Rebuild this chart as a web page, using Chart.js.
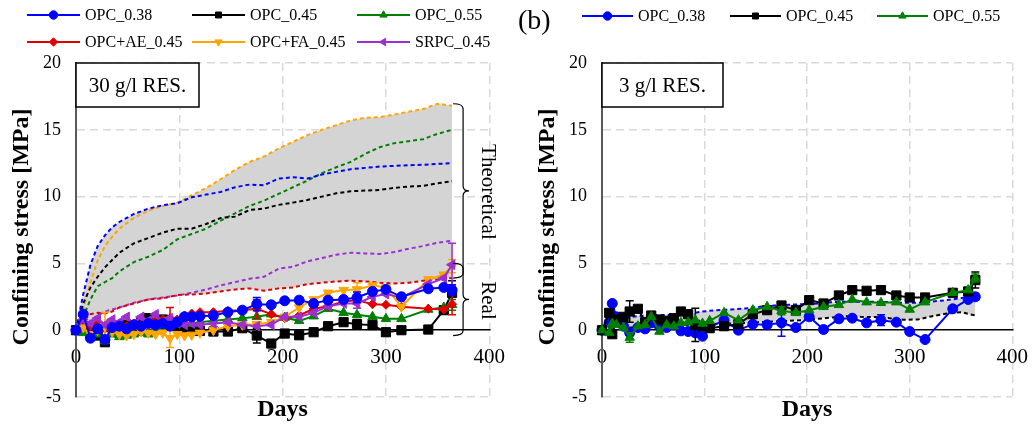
<!DOCTYPE html>
<html><head><meta charset="utf-8">
<script src="https://cdn.jsdelivr.net/npm/chart.js"></script>
<style>
html,body{margin:0;padding:0;background:#fff;}
#wrap{position:relative;width:1033px;height:424px;overflow:hidden;background:#fff;}
#c1{position:absolute;left:0;top:0;}
#c2{position:absolute;left:510px;top:0;}
</style></head><body>
<div id="wrap"><canvas id="c1" width="510" height="424"></canvas><canvas id="c2" width="523" height="424"></canvas></div>
<script>
// ---------------- DATA ----------------
const dayTicks = [0, 100, 200, 300, 400];
const stressTicks = [-5, 0, 5, 10, 15, 20];

// (a) 30 g/l — theoretical curves
const theoDays30 = [0,7,14,21,28,35,42,56,70,84,98,112,126,140,154,168,182,196,210,224,238,252,266,280,294,308,322,336,350,364];
const theo30_OPC038 = [0,2.7,4.9,6.3,7.1,7.7,8.1,8.7,9.1,9.35,9.5,9.95,10.15,10.35,10.7,10.9,10.85,11.35,11.45,11.35,11.65,11.85,12.05,12.15,12.25,12.3,12.35,12.38,12.45,12.5];
const theo30_OPC045 = [0,2.0,3.2,4.0,4.7,5.25,5.8,6.5,6.9,7.3,7.6,7.6,7.95,8.4,8.5,9.0,9.1,9.38,9.55,9.75,10.0,10.25,10.4,10.45,10.5,10.65,10.75,10.8,11.0,11.15];
const theo30_OPC055 = [0,1.0,2.3,3.3,3.6,3.9,4.4,5.1,5.5,6.0,6.8,7.2,7.6,8.2,8.75,9.3,9.7,10.2,10.7,11.2,11.75,12.2,12.6,13.2,13.7,14.0,14.15,14.3,14.7,15.0];
const theo30_AE045  = [0,0.7,1.2,1.3,1.25,1.4,1.7,2.0,2.3,2.38,2.63,2.68,2.75,2.9,3.05,3.13,2.95,3.13,3.2,3.45,3.55,3.65,3.7,3.65,3.55,3.5,3.55,3.7,3.8,3.9];
const theo30_FA045  = [0,1.6,3.6,5.2,6.3,7.0,7.6,8.4,8.95,9.3,9.55,10.1,10.65,11.3,12.0,12.6,13.0,13.6,14.1,14.6,15.0,15.35,15.7,15.9,15.95,16.15,16.35,16.55,16.95,16.8];
const theo30_SRPC045= [0,0.3,0.7,1.1,1.4,1.55,1.7,2.05,2.3,2.45,2.6,2.8,3.05,3.35,3.6,3.85,4.0,4.6,4.75,5.15,5.4,5.65,5.8,5.75,5.7,5.85,6.1,6.3,6.55,6.7];

// (a) 30 g/l — measured
const realDays30 = [0,7,14,21,28,35,42,49,56,63,70,77,84,91,98,105,112,120,133,147,161,175,189,202,216,230,244,259,272,287,300,315,341,356,364];
const real30_OPC038 = [0,1.2,-0.6,0.1,-0.7,0.2,0.3,0.1,0.4,0.3,0.5,0.4,0.5,0.3,0.6,1.0,1.0,1.05,1.1,1.35,1.5,1.95,1.9,2.2,2.25,2.0,2.25,2.3,2.45,2.9,3.05,2.5,3.1,3.2,3.0];
const real30_OPC045 = [0,0.3,-0.2,-0.4,-0.9,0.2,-0.2,0.4,0.1,0.6,0.9,0.5,0.8,0.6,0.3,0.1,0.0,-0.05,-0.1,-0.1,0.15,-0.4,-1.0,-0.25,-0.38,-0.15,0.3,0.6,0.45,0.38,-0.15,0.0,0.05,1.5,2.8];
const real30_OPC055 = [0,-0.2,-0.4,-0.3,-0.8,-0.3,-0.5,-0.4,-0.3,-0.2,-0.3,0.0,0.2,0.4,0.5,0.6,0.5,0.6,0.7,0.8,0.9,1.0,1.2,0.95,0.7,1.05,1.6,1.3,1.15,1.0,0.85,0.85,1.55,1.7,1.9];
const real30_AE045  = [0,0.8,0.3,0.5,0.1,0.4,0.2,0.3,0.5,0.4,0.6,0.7,0.8,0.9,0.8,1.1,1.25,1.35,1.35,1.45,1.5,1.6,1.2,0.9,1.1,1.6,1.8,2.15,2.25,1.95,1.9,1.75,1.6,1.55,1.95];
const real30_FA045  = [0,0.2,-0.3,0.0,0.3,-0.1,-0.3,-0.4,-0.3,-0.1,-0.2,-0.3,-0.2,-0.6,-0.3,-0.4,-0.35,-0.2,0.0,0.3,0.4,0.45,0.6,1.0,1.7,2.3,2.8,3.0,3.05,3.35,3.2,1.75,3.8,4.15,4.8];
const real30_SRPC045= [0,0.8,0.5,0.9,0.4,0.8,0.6,1.0,0.5,1.0,0.7,1.2,0.6,0.9,0.5,0.4,0.5,0.4,0.5,0.6,0.4,0.3,0.4,1.0,1.0,1.3,1.8,2.0,2.0,2.5,2.7,2.45,3.45,3.9,4.9];
// error bar half-widths (0 = none)
const err30_OPC038 = [0,0,0,0,0,0,0,0,0,0,0,0,0,0,0,0,0,0,0,0,0,0.5,0,0,0,0,0,0,0.4,0,0,0,0,0,0.4];
const err30_OPC045 = [0,0,0,0,0.25,0,0,0,0,0,0,0,0,0,0,0,0,0,0,0,0,0.55,0,0,0,0,0,0,0.35,0,0,0,0,0,0.9];
const err30_OPC055 = [0,0,0,0,0.2,0,0,0,0,0,0,0,0,0,0,0,0,0,0,0,0,0,0,0,0,0,0,0,0,0,0,0,0,0,0.4];
const err30_AE045  = [0,0,0,0,0,0,0,0,0,0,0,0,0,0.8,0,0,0,0,0,0,0,0.7,0,0,0,0,0,0,0,0,0,0,0,0,0.8];
const err30_FA045  = [0,0,0,0,1.05,0,0,0,0,0,0,0,0,0.7,0,0,0,0,0,0,0,0,0,0,0,0,0,0,0.5,0,0,0,0,0,0.5];
const err30_SRPC045= [0,0,0,0,0,0,0,0,0,0,0,0,0,0,0,0,0,0,0,0,0,0,0,0,0,0,0,0,0.35,0,0,0,0,0,1.6];

// (b) 3 g/l — theoretical curves
const theoDays3 = [0,7,14,28,42,56,70,84,98,112,126,140,154,168,182,196,210,224,238,252,266,280,294,308,322,336,350,364];
const theo3_OPC038 = [0,0.6,0.8,1.0,1.1,1.13,1.13,1.2,1.4,1.5,1.55,1.63,1.75,1.85,1.9,1.95,2.0,2.1,2.13,2.13,2.13,2.1,2.05,2.05,2.15,2.25,2.4,2.6];
const theo3_OPC045 = [0,0.25,0.3,0.2,0.25,0.3,0.35,0.4,0.45,0.48,0.5,0.55,0.6,0.65,0.7,0.75,0.85,0.95,1.05,1.0,0.98,0.9,0.78,0.8,1.05,1.25,1.35,1.1];

// (b) 3 g/l — measured
const realDays3 = [0,7,10,14,21,27,35,42,48,56,63,70,77,84,91,98,105,119,133,147,161,175,189,202,216,231,244,258,272,287,300,315,342,357,364];
const real3_OPC038 = [0,0.6,2.0,1.0,0.3,-0.2,0.2,0.1,0.55,0.3,0.2,0.4,-0.05,-0.1,-0.2,-0.45,0.2,0.75,0.0,0.45,0.4,0.55,0.2,1.0,0.05,0.85,0.9,0.55,0.75,0.6,-0.1,-0.7,1.6,2.3,2.5];
const real3_OPC045 = [0,1.3,-0.3,0.8,1.0,1.4,1.6,0.6,1.1,0.8,0.7,0.9,1.4,1.2,0.4,0.3,0.15,0.3,0.45,1.2,1.5,1.85,1.5,2.25,2.0,2.6,3.0,2.95,3.0,2.6,2.45,2.45,2.8,2.9,3.75];
const real3_OPC055 = [0,-0.2,0.5,0.4,0.2,-0.55,0.3,0.4,1.0,-0.1,0.4,0.3,0.55,0.6,0.75,0.5,0.7,1.3,0.75,1.5,1.75,1.45,1.3,1.5,1.75,1.9,2.3,2.1,2.05,2.1,1.55,2.1,2.8,3.0,3.9];
const err3_OPC038 = [0,0,0,0,0,0.2,0,0,0,0,0,0,0,0,0,0,0,0,0,0,0,1.0,0,0,0,0,0,0,0.4,0,0,0,0,0,0.25];
const err3_OPC045 = [0,0,0,0,0,0.8,0,0,0,0,0,0,0,0,1.25,0,0,0,0,0,0,0,0,0,0,0,0,0,0,0,0,0,0,0,0.6];
const err3_OPC055 = [0,0,0,0,0,0.35,0,0,0,0,0,0,0,0,0,0,0,0,0,0,0,0.3,0,0,0,0,0,0,0,0,0,0,0,0,0.3];

// bracket annotations (values in MPa)
const bracketLabels = ['Theoretical', 'Real'];
const bracketTop = [16.95, 5.0];
const bracketBottom = [3.9, -0.4];

// ---------------- STYLE ----------------
const FONT = "'Liberation Serif','Times New Roman',serif";
const C = {blue:'#0000ff', black:'#000000', green:'#008000', red:'#e00000', orange:'#ffa500', purple:'#9b30d0'};
const FILL = '#d4d4d4';

function pts(xs, ys) { return xs.map((x, i) => ({x: x, y: ys[i]})); }
function envelope(arrs, fn) { return arrs[0].map((_, i) => fn.apply(null, arrs.map(a => a[i]))); }

function marker(ctx, style, rot, x, y, r, color) {
  ctx.save();
  ctx.fillStyle = color; ctx.strokeStyle = color; ctx.lineWidth = 1;
  ctx.translate(x, y); ctx.rotate(rot * Math.PI / 180);
  ctx.beginPath();
  if (style === 'circle') ctx.arc(0, 0, r, 0, Math.PI * 2);
  else if (style === 'rect') { const s = r * Math.SQRT1_2; ctx.rect(-s, -s, 2 * s, 2 * s); }
  else if (style === 'rectRot') { ctx.moveTo(0, -r); ctx.lineTo(r, 0); ctx.lineTo(0, r); ctx.lineTo(-r, 0); ctx.closePath(); }
  else { for (let k = 0; k < 3; k++) { const a = k * 2 * Math.PI / 3; const px = Math.sin(a) * r, py = -Math.cos(a) * r; if (k) ctx.lineTo(px, py); else ctx.moveTo(px, py); } ctx.closePath(); }
  ctx.fill(); ctx.stroke();
  ctx.restore();
}

const errorBarPlugin = {
  id: 'errbars',
  afterDatasetDraw(chart, args) {
    const ds = chart.data.datasets[args.index];
    if (!ds.errors) return;
    const ys = chart.scales.y, ctx = chart.ctx;
    ctx.save();
    ctx.strokeStyle = ds.borderColor; ctx.lineWidth = 1.5; ctx.setLineDash([]);
    args.meta.data.forEach((pt, i) => {
      const e = ds.errors[i]; if (!e) return;
      const v = ds.data[i].y;
      const y1 = ys.getPixelForValue(v + e), y2 = ys.getPixelForValue(v - e), x = pt.x;
      ctx.beginPath();
      ctx.moveTo(x, y1); ctx.lineTo(x, y2);
      ctx.moveTo(x - 4, y1); ctx.lineTo(x + 4, y1);
      ctx.moveTo(x - 4, y2); ctx.lineTo(x + 4, y2);
      ctx.stroke();
    });
    ctx.restore();
  }
};

function decoPlugin(spec) {
  return {
    id: 'deco',
    afterDraw(chart) {
      const ctx = chart.ctx, a = chart.chartArea, xs = chart.scales.x, ys = chart.scales.y;
      ctx.save();
      // label box
      ctx.fillStyle = '#fff'; ctx.strokeStyle = '#000'; ctx.lineWidth = 1.5;
      ctx.fillRect(a.left, a.top, spec.boxW, 44);
      ctx.strokeRect(a.left, a.top, spec.boxW, 44);
      ctx.fillStyle = '#000'; ctx.font = '21px ' + FONT; ctx.textAlign = 'center'; ctx.textBaseline = 'middle';
      ctx.fillText(spec.boxText, a.left + spec.boxW / 2, a.top + 23);
      // axis titles
      ctx.font = 'bold 24px ' + FONT;
      ctx.fillText('Days', (a.left + a.right) / 2, 410);
      ctx.save();
      ctx.translate(spec.yTitleX, (a.top + a.bottom) / 2 - 3);
      ctx.rotate(-Math.PI / 2);
      ctx.fillText('Confining stress [MPa]', 0, 0);
      ctx.restore();
      // panel label
      if (spec.panelLabel) {
        ctx.font = '28px ' + FONT; ctx.textAlign = 'left';
        ctx.fillText(spec.panelLabel, spec.panelX, 22);
      }
      // legend
      ctx.font = '16px ' + FONT; ctx.textAlign = 'left'; ctx.textBaseline = 'middle';
      const items = chart.data.datasets.filter(d => d.legend);
      items.forEach((d, i) => {
        const col = i % spec.legendCols.length, row = Math.floor(i / spec.legendCols.length);
        const x = spec.legendCols[col], y = spec.legendRows[row];
        ctx.strokeStyle = d.borderColor; ctx.lineWidth = 2; ctx.setLineDash([]);
        ctx.beginPath(); ctx.moveTo(x, y); ctx.lineTo(x + spec.legendLine, y); ctx.stroke();
        marker(ctx, d.pointStyle, d.rotation || 0, x + spec.legendLine / 2, y, 4.2, d.borderColor);
        ctx.fillStyle = '#000';
        ctx.fillText(d.label, x + spec.legendLine + 5, y + 1);
      });
      // brackets
      if (spec.brackets) {
        const x0 = xs.getPixelForValue(365), x1 = x0 + 10, x2 = x0 + 16, xt = xs.getPixelForValue(398);
        ctx.strokeStyle = '#000'; ctx.lineWidth = 1.2;
        bracketLabels.forEach((lab, i) => {
          const yT = ys.getPixelForValue(bracketTop[i]), yB = ys.getPixelForValue(bracketBottom[i]), yM = (yT + yB) / 2;
          ctx.beginPath();
          ctx.moveTo(x0, yT); ctx.quadraticCurveTo(x1, yT, x1, yT + 5);
          ctx.lineTo(x1, yM - 5); ctx.quadraticCurveTo(x1, yM, x2, yM);
          ctx.quadraticCurveTo(x1, yM, x1, yM + 5);
          ctx.lineTo(x1, yB - 5); ctx.quadraticCurveTo(x1, yB, x0, yB);
          ctx.stroke();
          ctx.save();
          ctx.translate(xt, yM + 1); ctx.rotate(Math.PI / 2);
          ctx.font = '21px ' + FONT; ctx.textAlign = 'center'; ctx.textBaseline = 'middle'; ctx.fillStyle = '#000';
          ctx.fillText(lab, 0, 0);
          ctx.restore();
        });
      }
      ctx.restore();
    }
  };
}

function buildChart(spec) {
  const datasets = [];
  const envVals = spec.theo.map(t => t.values);
  datasets.push({label: 'envUpper', data: pts(spec.theoDays, envelope(envVals, Math.max)), borderWidth: 0, pointRadius: 0,
    backgroundColor: FILL, borderColor: 'rgba(0,0,0,0)', fill: '+1', order: 100, tension: 0});
  datasets.push({label: 'envLower', data: pts(spec.theoDays, envelope(envVals, Math.min)), borderWidth: 0, pointRadius: 0,
    borderColor: 'rgba(0,0,0,0)', fill: false, order: 99, tension: 0});
  spec.theo.forEach(t => datasets.push({label: t.label + ' theoretical', data: pts(spec.theoDays, t.values), borderColor: t.color,
    borderWidth: 2, borderDash: [4, 3], pointRadius: 0, fill: false, order: 50, tension: 0}));
  spec.real.forEach((r, k) => datasets.push({label: r.label, legend: true, data: pts(spec.realDays, r.values), errors: r.err,
    borderColor: r.color, backgroundColor: r.color, borderWidth: 2, pointStyle: r.style, rotation: r.rot || 0,
    pointRadius: r.r, pointBorderWidth: 1, fill: false, order: r.order, tension: 0, clip: false}));

  return new Chart(document.getElementById(spec.canvas), {
    type: 'line',
    data: {datasets},
    options: {
      responsive: false, animation: false, devicePixelRatio: 1,
      layout: {padding: {left: 0, right: spec.padRight, top: 63, bottom: 27}},
      plugins: {legend: {display: false}, tooltip: {enabled: false}},
      scales: {
        x: {
          type: 'linear', min: 0, max: 400, position: {y: 0},
          afterBuildTicks: s => { s.ticks = dayTicks.map(v => ({value: v})); },
          ticks: {font: {family: FONT, size: 21}, color: '#000', padding: 5, maxRotation: 0},
          grid: {color: c => (c.tick && c.tick.value === 0) ? 'rgba(0,0,0,0)' : '#d9d9d9', lineWidth: 1.5,
                 drawTicks: true, tickLength: 10, tickColor: 'rgba(0,0,0,0)'},
          border: {display: true, color: '#000', width: 1.5, dash: [8, 5]}
        },
        y: {
          type: 'linear', min: -5, max: 20, position: 'left',
          afterBuildTicks: s => { s.ticks = stressTicks.map(v => ({value: v})); },
          afterFit: s => { s.width = spec.yAxisWidth; },
          ticks: {font: {family: FONT, size: 18}, color: '#000', padding: 15},
          grid: {color: c => (c.tick && c.tick.value === 0) ? 'rgba(0,0,0,0)' : '#d9d9d9', lineWidth: 1.5, drawTicks: false},
          border: {display: true, color: '#595959', width: 2, dash: [8, 5]}
        }
      }
    },
    plugins: [errorBarPlugin, decoPlugin(spec)]
  });
}

buildChart({
  canvas: 'c1', yAxisWidth: 76, padRight: 19, boxText: '30 g/l RES.', boxW: 123, yTitleX: 22,
  legendCols: [27, 192, 357], legendRows: [15, 42], legendLine: 53, brackets: true,
  theoDays: theoDays30,
  theo: [
    {label: 'OPC_0.38', values: theo30_OPC038, color: C.blue},
    {label: 'OPC_0.45', values: theo30_OPC045, color: C.black},
    {label: 'OPC_0.55', values: theo30_OPC055, color: C.green},
    {label: 'OPC+AE_0.45', values: theo30_AE045, color: C.red},
    {label: 'OPC+FA_0.45', values: theo30_FA045, color: C.orange},
    {label: 'SRPC_0.45', values: theo30_SRPC045, color: C.purple}
  ],
  realDays: realDays30,
  real: [
    {label: 'OPC_0.38', values: real30_OPC038, err: err30_OPC038, color: C.blue, style: 'circle', r: 5, order: 1},
    {label: 'OPC_0.45', values: real30_OPC045, err: err30_OPC045, color: C.black, style: 'rect', r: 6.5, order: 6},
    {label: 'OPC_0.55', values: real30_OPC055, err: err30_OPC055, color: C.green, style: 'triangle', r: 5.5, order: 5},
    {label: 'OPC+AE_0.45', values: real30_AE045, err: err30_AE045, color: C.red, style: 'rectRot', r: 4.5, order: 4},
    {label: 'OPC+FA_0.45', values: real30_FA045, err: err30_FA045, color: C.orange, style: 'triangle', rot: 180, r: 5.5, order: 3},
    {label: 'SRPC_0.45', values: real30_SRPC045, err: err30_SRPC045, color: C.purple, style: 'triangle', rot: -90, r: 5.5, order: 2}
  ]
});

buildChart({
  canvas: 'c2', yAxisWidth: 92, padRight: 18, boxText: '3 g/l RES.', boxW: 121, yTitleX: 38,
  legendCols: [72, 220, 367], legendRows: [16], legendLine: 51, brackets: false, panelLabel: '(b)', panelX: 8,
  theoDays: theoDays3,
  theo: [
    {label: 'OPC_0.38', values: theo3_OPC038, color: C.blue},
    {label: 'OPC_0.45', values: theo3_OPC045, color: C.black}
  ],
  realDays: realDays3,
  real: [
    {label: 'OPC_0.38', values: real3_OPC038, err: err3_OPC038, color: C.blue, style: 'circle', r: 5, order: 3},
    {label: 'OPC_0.45', values: real3_OPC045, err: err3_OPC045, color: C.black, style: 'rect', r: 6.5, order: 2},
    {label: 'OPC_0.55', values: real3_OPC055, err: err3_OPC055, color: C.green, style: 'triangle', r: 5.5, order: 1}
  ]
});
</script>
</body></html>
